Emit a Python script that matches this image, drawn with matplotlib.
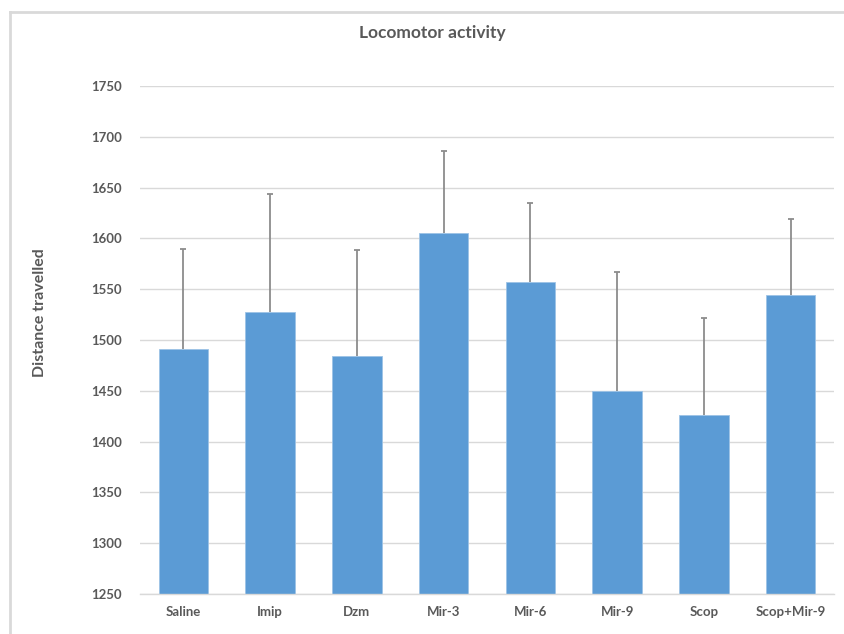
import matplotlib
matplotlib.use("Agg")
import matplotlib.pyplot as plt
from matplotlib.lines import Line2D
import numpy as np

categories = ["Saline", "Imip", "Dzm", "Mir-3", "Mir-6", "Mir-9", "Scop", "Scop+Mir-9"]
means = [1491.6, 1527.7, 1484.3, 1605.5, 1557.2, 1449.6, 1426.6, 1544.4]
errors = [97.8, 115.6, 103.8, 80.4, 77.5, 116.9, 95.2, 74.3]
yticks = [1250, 1300, 1350, 1400, 1450, 1500, 1550, 1600, 1650, 1700, 1750]

FONT = ["Liberation Sans Narrow", "Lato", "DejaVu Sans"]
plt.rcParams["font.family"] = FONT
TXT = "#595959"

W, H = 845, 634
fig = plt.figure(figsize=(W / 100, H / 100), dpi=100)
fig.patch.set_facecolor("white")

# outer chart frame
fig.add_artist(Line2D([10 / W, 10 / W], [0, 1 - 12 / H], color="#d9d9d9", lw=2, transform=fig.transFigure))
fig.add_artist(Line2D([10 / W, 1], [1 - 12 / H, 1 - 12 / H], color="#d9d9d9", lw=2, transform=fig.transFigure))

left, right, top, bottom = 140, 834, 86, 594
ax = fig.add_axes([left / W, 1 - bottom / H, (right - left) / W, (bottom - top) / H])

x = np.arange(len(categories))
ax.bar(x, means, width=0.57, color="#5B9BD5", edgecolor="#9DC3E6", linewidth=0.6, zorder=2)
eb = ax.errorbar(x, means, yerr=[np.zeros(len(errors)), errors], fmt="none",
                 ecolor="#8c8c8c", elinewidth=1.3, capsize=2.2, capthick=1.3, zorder=3)
# hide the lower caps (one-sided error bars)
eb[1][0].set_visible(False)

ax.set_xlim(-0.5, len(categories) - 0.5)
ax.set_ylim(1250, 1750)
ax.set_yticks(yticks)
ax.set_yticklabels([str(t) for t in yticks])
ax.set_xticks(x)
ax.set_xticklabels(categories)
ax.grid(axis="y", color="#d9d9d9", lw=1, zorder=0)
ax.set_axisbelow(True)
for s in ["top", "right", "left"]:
    ax.spines[s].set_visible(False)
ax.spines["bottom"].set_color("#d9d9d9")
ax.spines["bottom"].set_linewidth(1)
ax.tick_params(axis="both", length=0, labelsize=9.5, labelcolor=TXT)
ax.tick_params(axis="y", pad=13)
ax.tick_params(axis="x", pad=9)
for lab in ax.get_xticklabels() + ax.get_yticklabels():
    lab.set_fontweight("bold")

fig.text(40 / W, 1 - 313 / H, "Distance travelled", rotation=90, ha="center", va="center",
         fontsize=11.5, fontweight="bold", color=TXT)
fig.text(432 / W, 1 - 33 / H, "Locomotor activity", ha="center", va="center",
         fontsize=12.5, fontweight="bold", color=TXT)

fig.savefig("out.png", dpi=100, facecolor="white")
